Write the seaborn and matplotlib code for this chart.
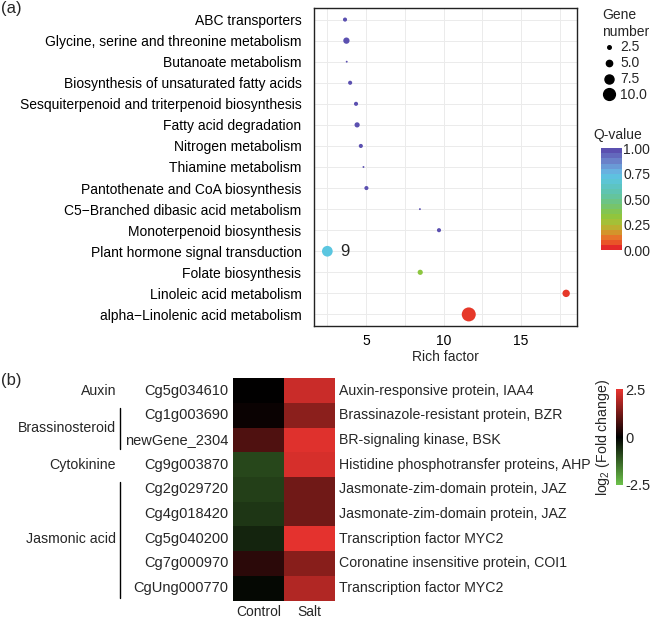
import numpy as np
import pandas as pd
import matplotlib
matplotlib.use("Agg")
import matplotlib.pyplot as plt
import seaborn as sns
from matplotlib.colors import LinearSegmentedColormap, Normalize
from matplotlib.cm import ScalarMappable
from matplotlib.lines import Line2D
from matplotlib.ticker import MultipleLocator

# ---- panel (a): KEGG enrichment ----
pathways = [
    "ABC transporters",
    "Glycine, serine and threonine metabolism",
    "Butanoate metabolism",
    "Biosynthesis of unsaturated fatty acids",
    "Sesquiterpenoid and triterpenoid biosynthesis",
    "Fatty acid degradation",
    "Nitrogen metabolism",
    "Thiamine metabolism",
    "Pantothenate and CoA biosynthesis",
    "C5\u2212Branched dibasic acid metabolism",
    "Monoterpenoid biosynthesis",
    "Plant hormone signal transduction",
    "Folate biosynthesis",
    "Linoleic acid metabolism",
    "alpha\u2212Linolenic acid metabolism",
]
rich_factor = [3.64, 3.73, 3.75, 3.97, 4.35, 4.42, 4.66, 4.83, 5.02,
               8.47, 9.70, 2.50, 8.49, 17.9, 11.62]
gene_number = [3, 5, 1, 3, 3, 4, 3, 1, 3, 1, 3, 9, 4, 6, 12]
q_value = [1.0, 1.0, 1.0, 1.0, 1.0, 1.0, 1.0, 1.0, 1.0, 1.0, 1.0,
           0.72, 0.33, 0.02, 0.02]
highlight = "Plant hormone signal transduction"
highlight_note = "9"
size_breaks = [2.5, 5.0, 7.5, 10.0]

# ---- panel (b): heatmap ----
genes = ["Cg5g034610", "Cg1g003690", "newGene_2304", "Cg9g003870", "Cg2g029720",
         "Cg4g018420", "Cg5g040200", "Cg7g000970", "CgUng000770"]
descriptions = [
    "Auxin-responsive protein, IAA4",
    "Brassinazole-resistant protein, BZR",
    "BR-signaling kinase, BSK",
    "Histidine phosphotransfer proteins, AHP",
    "Jasmonate-zim-domain protein, JAZ",
    "Jasmonate-zim-domain protein, JAZ",
    "Transcription factor MYC2",
    "Coronatine insensitive protein, COI1",
    "Transcription factor MYC2",
]
control_fc = [0.0, 0.1, 0.85, -0.9, -0.82, -0.7, -0.45, 0.45, -0.1]
salt_fc = [2.15, 1.5, 2.4, 2.3, 1.2, 1.2, 2.45, 1.45, 1.9]
conditions = ["Control", "Salt"]
hormone_groups = ["Auxin", "Brassinosteroid", "Cytokinine", "Jasmonic acid"]
group_rows = [(0, 1), (1, 3), (3, 4), (4, 9)]

sns.set_theme(style="white")
plt.rcParams["font.family"] = ["Liberation Sans", "DejaVu Sans"]
plt.rcParams["font.size"] = 10
plt.rcParams["mathtext.fontset"] = "custom"
plt.rcParams["mathtext.rm"] = "Liberation Sans"

W, H = 650, 618
fig = plt.figure(figsize=(6.5, 6.18), dpi=100)


def fx(px):
    return px / W


def fy(px):
    return 1 - px / H


q_cmap = LinearSegmentedColormap.from_list("q", [
    (0.00, "#e4282a"), (0.06, "#ea5a28"), (0.12, "#e57b2a"), (0.18, "#c9a22c"),
    (0.25, "#a9bf35"), (0.33, "#8cc63f"), (0.45, "#70c47a"), (0.55, "#60c4a8"),
    (0.65, "#5cc4c8"), (0.72, "#5bc6e0"), (0.80, "#6aaee0"), (0.90, "#6a7fc8"),
    (1.00, "#5b50b0")])


def diam_pt(v):
    return (1.1 * v + 0.8) * 0.72


size_map = {v: diam_pt(v) ** 2 for v in set(gene_number)}

ax1 = fig.add_axes([fx(314), fy(326), fx(577 - 314), (326 - 8) / H])
df = pd.DataFrame({"pathway": pathways, "rich": rich_factor,
                   "genes": gene_number, "q": q_value})
df["row"] = np.arange(len(df))
sns.scatterplot(data=df, x="rich", y="row", hue="q", size="genes",
                palette=q_cmap, hue_norm=(0, 1), sizes=size_map,
                linewidth=0, legend=False, ax=ax1, zorder=3)
ax1.set_ylim(len(pathways) - 0.45, -0.55)
ax1.set_xlim(1.64, 18.6)
ax1.set_yticks(df["row"])
ax1.set_yticklabels(pathways, fontsize=10.1)
for lab in ax1.get_yticklabels():
    if lab.get_text() == highlight:
        lab.set_color("#e8312f")
hi = df[df["pathway"] == highlight].iloc[0]
ax1.text(hi["rich"] + 1.15, hi["row"], highlight_note, fontsize=12,
         ha="center", va="center")
ax1.xaxis.set_major_locator(MultipleLocator(5))
ax1.xaxis.set_minor_locator(MultipleLocator(2.5))
ax1.grid(True, which="both", color="#ebebeb", lw=0.7, zorder=0)
ax1.set_axisbelow(True)
ax1.tick_params(which="major", length=4, width=0.8, color="#333333",
                pad=2, labelsize=10, labelcolor="black")
ax1.tick_params(which="minor", length=0)
ax1.tick_params(axis="y", pad=5)
for s in ax1.spines.values():
    s.set_color("#222222")
    s.set_linewidth(1)
ax1.set_xlabel("Rich factor", fontsize=10, labelpad=1)
ax1.set_ylabel("")

# gene number legend
handles = [Line2D([], [], ls="", marker="o", color="black",
                  markersize=diam_pt(b), label=f"{b:.1f}") for b in size_breaks]
leg = fig.legend(handles=handles, title="Gene\nnumber", loc="upper left",
                 bbox_to_anchor=(fx(594), fy(0)), frameon=False, fontsize=10,
                 title_fontsize=10, handlelength=1.0, handletextpad=0.3,
                 labelspacing=0.14, borderpad=0.1)
leg._legend_box.align = "left"

# Q-value colorbar
cax1 = fig.add_axes([fx(601), fy(250), fx(20.7), (250 - 148.3) / H])
sm = ScalarMappable(norm=Normalize(0, 1), cmap=q_cmap.resampled(20))
cb1 = fig.colorbar(sm, cax=cax1, ticks=[0, 0.25, 0.5, 0.75, 1.0])
cb1.outline.set_visible(False)
cb1.ax.set_yticklabels([f"{t:.2f}" for t in [0, 0.25, 0.5, 0.75, 1.0]])
cb1.ax.tick_params(length=3, width=0.8, color="white", direction="in",
                   pad=1, labelsize=10)
fig.text(fx(593), fy(135), "Q-value", fontsize=10, va="center", ha="left")

# ---- panel (b) ----
ax2 = fig.add_axes([fx(232.7), fy(600.5), fx(102.3), (600.5 - 378.3) / H])
cax2 = fig.add_axes([fx(616), fy(485), fx(6.7), (485 - 389.3) / H])
hm = pd.DataFrame({"Control": control_fc, "Salt": salt_fc}, index=genes)[conditions]
fc_cmap = LinearSegmentedColormap.from_list("fc", ["#6cc24a", "#000000", "#e8332f"])
sns.heatmap(hm, cmap=fc_cmap, vmin=-2.5, vmax=2.5, ax=ax2, cbar_ax=cax2,
            xticklabels=conditions, yticklabels=genes)
ax2.tick_params(length=0, labelsize=10, pad=3)
ax2.set_yticklabels(genes, rotation=0, fontsize=10.5)
ax2.set_xlabel("")
ax2.set_ylabel("")
ytr = ax2.get_yaxis_transform()
for i, d in enumerate(descriptions):
    ax2.text(1.039, i + 0.5, d, transform=ytr, ha="left", va="center", fontsize=10.2)
for name, (r0, r1) in zip(hormone_groups, group_rows):
    ax2.text(-1.14, (r0 + r1) / 2, name, transform=ytr, ha="right",
             va="center", fontsize=10.2)
    if r1 - r0 > 1:
        ax2.plot([-1.105, -1.105], [r0 + 0.2, r1 - 0.12], transform=ytr,
                 color="black", lw=1, clip_on=False)

cb2 = ax2.collections[0].colorbar
cb2.set_ticks([-2.5, 0, 2.5])
cb2.set_ticklabels(["-2.5", "0", "2.5"])
cb2.outline.set_visible(False)
cb2.ax.tick_params(length=0, pad=2, labelsize=10.5)
cb2.ax.yaxis.set_label_position("left")
cb2.ax.set_ylabel(r"log$_2$ (Fold change)", fontsize=10.2, labelpad=3)

fig.text(fx(1), fy(9), "(a)", fontsize=12, va="center", ha="left")
fig.text(fx(1), fy(380), "(b)", fontsize=12, va="center", ha="left")

fig.savefig("out.png", dpi=100)
